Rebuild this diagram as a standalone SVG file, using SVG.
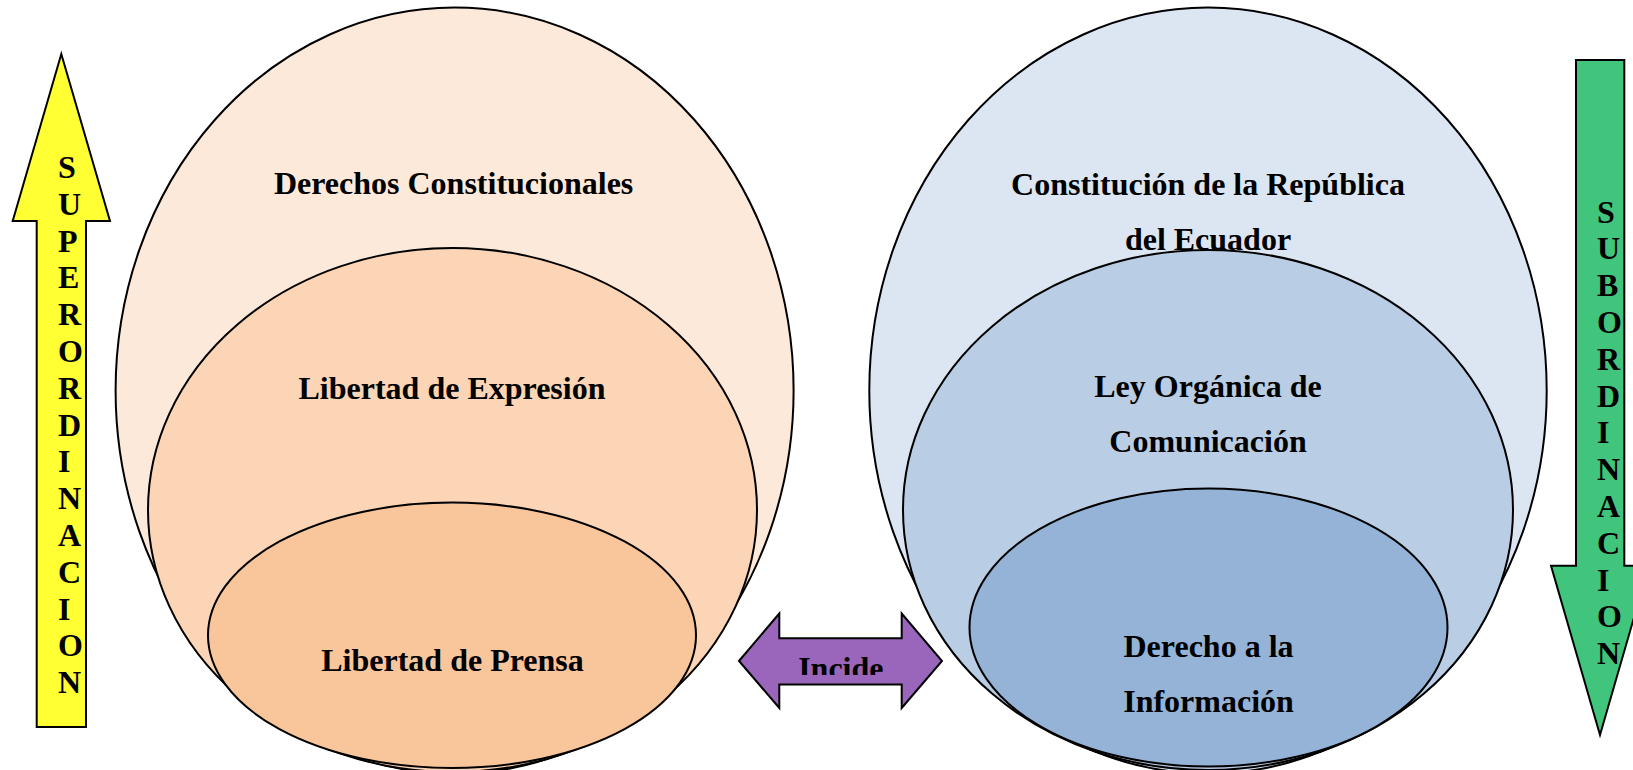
<svg xmlns="http://www.w3.org/2000/svg" width="1633" height="770" viewBox="0 0 1633 770">
<style>
.e{stroke:#000;stroke-width:2}
.t{font-family:"Liberation Serif","Times New Roman",serif;font-weight:bold;font-size:32px;fill:#000;text-anchor:middle}
.v{font-family:"Liberation Serif","Times New Roman",serif;font-weight:bold;font-size:32px;fill:#000}
.a{stroke:#000;stroke-width:2;stroke-linejoin:miter}
</style>
<defs>
<clipPath id="incClip"><rect x="780" y="640" width="122" height="35"/></clipPath>
</defs>
<rect width="1633" height="770" fill="#fff"/>

<g id="superordinacion">
<polygon class="a" fill="#FFFF33" points="61.3,54 110,221 86,221 86,727 36.7,727 36.7,221 12.7,221"/>
<text class="v"><tspan x="58" y="178">S</tspan><tspan x="58" y="214.8">U</tspan><tspan x="58" y="251.6">P</tspan><tspan x="58" y="288.4">E</tspan><tspan x="58" y="325.2">R</tspan><tspan x="58" y="362">O</tspan><tspan x="58" y="398.8">R</tspan><tspan x="58" y="435.6">D</tspan><tspan x="58" y="472.4">I</tspan><tspan x="58" y="509.2">N</tspan><tspan x="58" y="546">A</tspan><tspan x="58" y="582.8">C</tspan><tspan x="58" y="619.6">I</tspan><tspan x="58" y="656.4">O</tspan><tspan x="58" y="693.2">N</tspan></text>
</g>

<g id="derechos-constitucionales">
<ellipse class="e" fill="#FDE9D9" cx="454.6" cy="390.6" rx="339" ry="383"/>
<text class="t" x="453.6" y="194">Derechos Constitucionales</text>
</g>
<g id="libertad-expresion">
<ellipse class="e" fill="#FBD5B5" cx="452.5" cy="510" rx="304.5" ry="262"/>
<text class="t" x="452" y="399">Libertad de Expresión</text>
</g>
<g id="libertad-prensa">
<ellipse class="e" fill="#F9C59A" cx="452" cy="635.3" rx="244" ry="132.7"/>
<text class="t" x="452.5" y="670.7">Libertad de Prensa</text>
</g>

<g id="constitucion">
<ellipse class="e" fill="#DCE6F2" cx="1208" cy="390.6" rx="338.7" ry="383"/>
<text class="t" x="1208" y="195">Constitución de la República</text>
<text class="t" x="1208" y="250">del Ecuador</text>
</g>
<g id="ley-organica">
<ellipse class="e" fill="#B9CDE5" cx="1208" cy="510" rx="305" ry="260"/>
<text class="t" x="1208" y="397">Ley Orgánica de</text>
<text class="t" x="1208" y="452">Comunicación</text>
</g>
<g id="derecho-informacion">
<ellipse class="e" fill="#95B3D7" cx="1208.5" cy="627.5" rx="239" ry="139"/>
<text class="t" x="1208.5" y="656.7">Derecho a la</text>
<text class="t" x="1208.5" y="711.7">Información</text>
</g>

<g id="connectors">
<g id="incide">
<polygon class="a" fill="#9966BB" points="739,661 779.3,613.5 779.3,638.3 901.7,638.3 901.7,613.5 942,661 901.7,708 901.7,684.5 779.3,684.5 779.3,708"/>
<text class="t" x="840.8" y="678.5" clip-path="url(#incClip)">Incide</text>
</g>
</g>

<g id="subordinacion">
<polygon class="a" fill="#41C47B" points="1576,60 1624.3,60 1624.3,565.7 1649,565.7 1600,735 1551,565.7 1576,565.7"/>
<text class="v"><tspan x="1597" y="222.5">S</tspan><tspan x="1597" y="259.3">U</tspan><tspan x="1597" y="296.1">B</tspan><tspan x="1597" y="332.9">O</tspan><tspan x="1597" y="369.7">R</tspan><tspan x="1597" y="406.5">D</tspan><tspan x="1597" y="443.3">I</tspan><tspan x="1597" y="480.1">N</tspan><tspan x="1597" y="516.9">A</tspan><tspan x="1597" y="553.7">C</tspan><tspan x="1597" y="590.5">I</tspan><tspan x="1597" y="627.3">O</tspan><tspan x="1597" y="664.1">N</tspan></text>
</g>
</svg>
